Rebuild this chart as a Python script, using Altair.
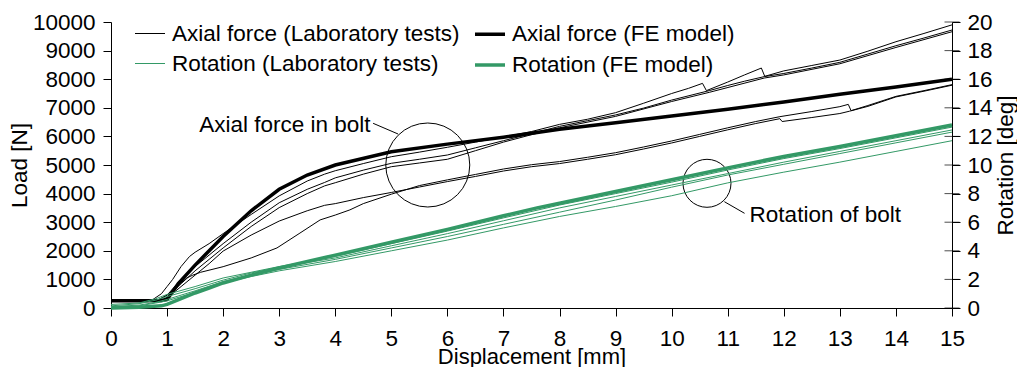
import altair as alt
import pandas as pd

FONT = "Liberation Sans"
GREEN = "#339966"
FS = 22.5

# legend domain order (legend fills column by column)
SERIES = ["Axial force (Laboratory tests)", "Rotation (Laboratory tests)",
          "Axial force (FE model)", "Rotation (FE model)"]
SERIES_COLORS = ["#000000", GREEN, "#000000", GREEN]
SERIES_WIDTHS = [1, 1, 3.5, 3.5]

# ---- Axial force, laboratory tests (N) ----
T1_X = [0, 0.4, 0.75, 0.9, 1.0, 1.1, 1.25, 1.4, 1.5, 1.75, 2.0, 2.5, 3.0, 3.5, 3.81, 4.0, 4.5, 5.0, 5.5, 6.0,
        6.5, 7.0, 7.5, 8.0, 8.5, 9.0, 9.5, 10.0, 10.3, 10.55, 10.62, 11.0, 11.3, 11.6, 11.66, 12.0, 12.5,
        13.0, 13.5, 14.0, 14.5, 15.0]
T1_Y = [260, 250, 300, 500, 750, 1000, 1450, 1800, 1950, 2250, 2600, 3270, 3920, 4440, 4680, 4800, 5050, 5290,
        5450, 5620, 5800, 5980, 6170, 6420, 6600, 6830, 7160, 7500, 7680, 7855, 7600, 7900, 8150, 8390, 8100,
        8290, 8480, 8670, 8980, 9310, 9600, 9900]
T2_X = [0, 0.5, 0.85, 1.0, 1.25, 1.5, 1.75, 2.0, 2.5, 3.0, 3.5, 3.81, 4.0, 4.5, 5.0, 5.5, 6.0, 6.5, 7.0, 7.5,
        8.0, 8.5, 9.0, 9.5, 10.0, 10.67, 11.0, 11.3, 11.65, 12.0, 12.5, 13.0, 13.5, 14.0, 14.5, 15.0]
T2_Y = [250, 240, 280, 450, 1000, 1450, 1850, 2250, 3000, 3680, 4150, 4390, 4550, 4820, 5060, 5200, 5350, 5600,
        5850, 6100, 6350, 6550, 6750, 6990, 7270, 7600, 7780, 7930, 8090, 8200, 8390, 8590, 8880, 9170, 9440, 9720]
T3_X = [0, 0.5, 0.9, 1.0, 1.25, 1.5, 1.75, 2.0, 2.5, 3.0, 3.5, 3.81, 4.0, 4.5, 5.0, 5.5, 6.0, 6.5, 7.0, 7.5,
        8.0, 9.0, 10.0, 10.67, 11.65, 12.0, 13.0, 14.0, 15.0]
T3_Y = [240, 245, 270, 380, 850, 1300, 1700, 2100, 2850, 3510, 4000, 4270, 4380, 4680, 4940, 5070, 5200, 5500,
        5800, 6060, 6300, 6700, 7220, 7540, 8040, 8150, 8540, 9110, 9660]
LA_X = [0, 0.5, 0.9, 1.0, 1.25, 1.5, 1.75, 2.0, 2.5, 3.0, 3.5, 3.81, 4.0, 4.5, 5.0, 5.5, 6.0, 6.5, 7.0, 7.5,
        8.0, 8.5, 9.0, 9.5, 10.0, 10.5, 11.0, 11.5, 11.93, 11.97, 12.5, 13.0, 13.17, 13.5, 14.0, 14.5, 15.0]
LA_Y = [230, 235, 260, 350, 750, 1150, 1550, 1990, 2550, 3040, 3400, 3590, 3650, 3860, 4040, 4230, 4420, 4600,
        4790, 4940, 5050, 5200, 5360, 5560, 5770, 6000, 6230, 6450, 6620, 6520, 6660, 6800, 6880, 7050, 7380,
        7580, 7790]
LB_X = [0, 0.5, 0.85, 1.0, 1.2, 1.35, 1.46, 1.6, 2.0, 2.5, 2.96, 3.37, 3.73, 4.0, 4.26, 4.5, 5.0, 5.5, 6.0,
        6.5, 7.0, 7.5, 8.0, 8.5, 9.0, 9.5, 10.0, 10.5, 11.0, 11.5, 11.93, 12.5, 13.0, 13.15, 13.2, 13.5, 14.0,
        14.5, 15.0]
LB_Y = [270, 260, 300, 450, 800, 1050, 1150, 1250, 1445, 1750, 2100, 2620, 3080, 3250, 3430, 3650, 3980, 4280,
        4480, 4670, 4860, 5010, 5120, 5270, 5430, 5630, 5840, 6070, 6300, 6520, 6690, 6870, 7040, 7120, 6900,
        7080, 7400, 7600, 7810]

# ---- Axial force, FE model (N) ----
FEA_X = [0, 0.5, 0.9, 1.0, 1.2, 1.5, 2.0, 2.5, 3.0, 3.5, 4.0, 5.0, 6.0, 7.0, 8.0, 9.0, 10.0, 11.0, 12.0, 13.0,
         14.0, 15.0]
FEA_Y = [250, 250, 260, 300, 850, 1500, 2500, 3400, 4150, 4650, 5000, 5460, 5730, 5970, 6250, 6480, 6710, 6950,
         7200, 7470, 7730, 8000]

# ---- Rotation, laboratory tests (deg) ----
G_X = [0, 0.5, 0.8, 1.0, 1.5, 2.0, 2.5, 3, 4, 5, 6, 7, 8, 9, 10, 11, 12, 13, 14, 15]
G1_Y = [0.25, 0.35, 0.65, 0.95, 1.5, 2.1, 2.5, 2.9, 3.6, 4.5, 5.38, 6.3, 7.2, 8.0, 8.8, 9.65, 10.45, 11.15, 11.9, 12.65]
G2_Y = [0.15, 0.3, 0.55, 0.8, 1.35, 1.95, 2.45, 2.85, 3.5, 4.35, 5.2, 6.1, 7.0, 7.8, 8.6, 9.4, 10.2, 10.95, 11.7, 12.45]
G3_Y = [0.1, 0.2, 0.4, 0.6, 1.2, 1.85, 2.3, 2.7, 3.4, 4.2, 5.0, 5.85, 6.7, 7.55, 8.45, 9.3, 10.05, 10.8, 11.55, 12.3]
G4_Y = [0.0, 0.15, 0.35, 0.5, 1.1, 1.75, 2.2, 2.6, 3.25, 4.0, 4.75, 5.6, 6.4, 7.1, 7.85, 8.75, 9.5, 10.2, 10.95, 11.7]

# ---- Rotation, FE model (deg) ----
FER_X = [0, 0.5, 0.9, 1.0, 1.25, 1.5, 1.75, 2.0, 2.5, 3, 4, 5, 6, 7, 7.6, 8, 9, 10, 11, 12, 13, 14, 15]
FER_Y = [0.0, 0.05, 0.15, 0.25, 0.65, 1.05, 1.4, 1.75, 2.3, 2.8, 3.7, 4.6, 5.5, 6.45, 7.0, 7.33, 8.15, 8.97,
         9.8, 10.6, 11.3, 12.05, 12.8]

X_TICKS = list(range(0, 16))
LOAD_TICKS = list(range(0, 10001, 1000))
ROT_TICKS = list(range(0, 21, 2))

# annotations (data coordinates on the load axis)
ANN_TEXT = ["Axial force in bolt", "Rotation of bolt"]
ANN_TX = [4.63, 11.39]
ANN_TY = [6400, 3250]
CIRC_X = [5.65, 10.63]
CIRC_Y = [5000, 4360]
CIRC_D = [84, 48]
LEAD_X = [4.675, 10.94]
LEAD_Y = [6458, 3717]
LEAD_X2 = [5.12, 11.30]
LEAD_Y2 = [6084, 3311]


def build(curves, series):
    rows = []
    for cid, (xs, ys) in curves.items():
        for a, b in zip(xs, ys):
            rows.append({"x": a, "y": b, "series": series, "curve": cid})
    return pd.DataFrame(rows)


lab_ax = build({"T1": (T1_X, T1_Y), "T2": (T2_X, T2_Y), "T3": (T3_X, T3_Y),
                "LA": (LA_X, LA_Y), "LB": (LB_X, LB_Y)}, SERIES[0])
fe_ax = build({"FEA": (FEA_X, FEA_Y)}, SERIES[2])
lab_rot = build({"G1": (G_X, G1_Y), "G2": (G_X, G2_Y), "G3": (G_X, G3_Y), "G4": (G_X, G4_Y)}, SERIES[1])
fe_rot = build({"FER": (FER_X, FER_Y)}, SERIES[3])

text_left = pd.DataFrame({"x": ANN_TX[:1], "y": ANN_TY[:1], "t": ANN_TEXT[:1]})
text_right = pd.DataFrame({"x": ANN_TX[1:], "y": ANN_TY[1:], "t": ANN_TEXT[1:]})
circ = pd.DataFrame({"x": CIRC_X, "y": CIRC_Y, "s": [d * d for d in CIRC_D]})
lead = pd.DataFrame({"x": LEAD_X, "y": LEAD_Y, "x2": LEAD_X2, "y2": LEAD_Y2})
rticks = pd.DataFrame({"x": [15] * len(ROT_TICKS), "y": ROT_TICKS})

common_axis = dict(grid=False, domainColor="black", tickColor="black", labelColor="black",
                   titleColor="black", labelFont=FONT, titleFont=FONT, labelFontSize=FS,
                   titleFontSize=FS, titleFontWeight="normal", tickSize=8, domainWidth=1, tickWidth=1,
                   labelFlush=False, labelOverlap=False)

x_axis_opts = dict(common_axis)
x_axis_opts["titleFontSize"] = 22
X = alt.X("x:Q", scale=alt.Scale(domain=[0, 15], nice=False),
          axis=alt.Axis(title="Displacement [mm]", values=X_TICKS, labelPadding=11,
                        titleY=55, titleBaseline="alphabetic", **x_axis_opts))
Y_LOAD = alt.Y("y:Q", scale=alt.Scale(domain=[0, 10000], nice=False),
               axis=alt.Axis(title="Load  [N]", values=LOAD_TICKS, format="d", labelPadding=8,
                             titlePadding=1, **common_axis))
Y_ROT = alt.Y("y:Q", scale=alt.Scale(domain=[0, 20], nice=False),
              axis=alt.Axis(title="Rotation [deg]", orient="right", values=ROT_TICKS, format="d",
                            labelPadding=7, titlePadding=2, titleAngle=270, titleBaseline="top",
                            **common_axis))

legend = alt.Legend(title=None, orient="none", legendX=22, legendY=-5, columns=2, symbolType="stroke",
                    symbolSize=900, labelFontSize=FS, labelFont=FONT, labelColor="black",
                    columnPadding=8, rowPadding=2, labelOffset=5, padding=0, labelLimit=500)
COLOR = alt.Color("series:N", scale=alt.Scale(type="ordinal", domain=SERIES, range=SERIES_COLORS),
                  legend=legend)
SW = alt.StrokeWidth("series:N", scale=alt.Scale(type="ordinal", domain=SERIES, range=SERIES_WIDTHS),
                     legend=legend)

l_lab_ax = alt.Chart(lab_ax).mark_line().encode(x=X, y=Y_LOAD, color=COLOR, strokeWidth=SW, detail="curve:N")
l_fe_ax = alt.Chart(fe_ax).mark_line().encode(x=X, y=Y_LOAD, color=COLOR, strokeWidth=SW, detail="curve:N")
l_circ = alt.Chart(circ).mark_point(shape="circle", filled=False, color="black", strokeWidth=1, opacity=1).encode(
    x=X, y=Y_LOAD, size=alt.Size("s:Q", scale=None, legend=None))
l_lead = alt.Chart(lead).mark_rule(color="black", strokeWidth=1).encode(x=X, y=Y_LOAD, x2="x2:Q", y2="y2:Q")
l_text_l = alt.Chart(text_left).mark_text(fontSize=FS, font=FONT, color="black", baseline="middle",
                                          align="right").encode(x=X, y=Y_LOAD, text="t:N")
l_text_r = alt.Chart(text_right).mark_text(fontSize=FS, font=FONT, color="black", baseline="middle",
                                           align="left").encode(x=X, y=Y_LOAD, text="t:N")

l_lab_rot = alt.Chart(lab_rot).mark_line().encode(x=X, y=Y_ROT, color=COLOR, strokeWidth=SW, detail="curve:N")
l_fe_rot = alt.Chart(fe_rot).mark_line().encode(x=X, y=Y_ROT, color=COLOR, strokeWidth=SW, detail="curve:N")
l_rt = alt.Chart(rticks).mark_tick(orient="horizontal", size=15, thickness=1, color="black").encode(x=X, y=Y_ROT)

load_layer = alt.layer(l_lab_ax, l_fe_ax, l_circ, l_lead, l_text_l, l_text_r)
rot_layer = alt.layer(l_lab_rot, l_fe_rot, l_rt)

chart = alt.layer(load_layer, rot_layer).resolve_scale(y="independent").properties(
    width=841, height=286,
    autosize=alt.AutoSizeParams(type="none"),
    padding={"left": 103, "top": 14, "right": 65, "bottom": 59}
).configure_view(stroke=None)

chart.save("out.html", embed_options={"renderer": "svg", "actions": False})
